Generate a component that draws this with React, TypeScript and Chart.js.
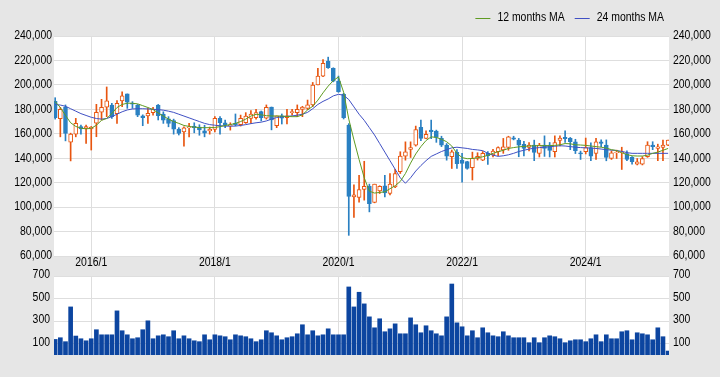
import React, { useEffect, useRef } from 'react';
import { Chart, registerables } from 'chart.js';

Chart.register(...registerables);

// ---------- data (monthly, 2015/6 .. 2025/5) ----------
const START_YEAR = 2015;
const START_MONTH = 6;
const MONTHS: string[] = [];
for (let k = 0; k < 120; k++) {
  const m = START_MONTH - 1 + k;
  MONTHS.push(`${START_YEAR + Math.floor(m / 12)}/${(m % 12) + 1}`);
}

const TICK_LABELS = ['2016/1', '2018/1', '2020/1', '2022/1', '2024/1'];

const OPEN = [
  186500, 172300, 181900, 153100, 159700, 165800, 164400, 164000, 168600, 177600,
  181700, 183500, 176500, 186900, 192600, 184900, 183500, 174600, 174600, 177300,
  183500, 176200, 172300, 170700, 163800, 161600, 164900, 166000, 165400, 162500,
  162500, 163600, 172600, 169000, 166500, 168500, 167400, 169000, 172600, 173200,
  178100, 172700, 181900, 166700, 174600, 173200, 177300, 177300, 180000, 180800,
  183600, 199900, 207200, 219500, 213500, 203100, 192300, 167200, 108300, 107900,
  114400, 117100, 103800, 113300, 117400, 111100, 116600, 128900, 141700, 147200,
  150700, 165200, 156200, 163000, 162200, 156200, 150700, 141200, 144800, 138500,
  137200, 132300, 139900, 138500, 144000, 142600, 145300, 146700, 148800, 156700,
  154800, 151300, 148800, 150700, 144000, 150700, 150700, 145300, 154500, 157000,
  156200, 153500, 144500, 145300, 148800, 143900, 153500, 150700, 139800, 144500,
  144500, 143900, 140700, 135200, 135200, 141200, 150700, 148000, 148800, 150700,
];

const HIGH = [
  189500, 181600, 183600, 160500, 172600, 167100, 167200, 166000, 184100, 188200,
  198300, 185000, 187100, 194400, 192600, 186300, 184000, 175500, 181000, 181600,
  184000, 178000, 174000, 172000, 165000, 165700, 168500, 169000, 167400, 167000,
  165500, 174000, 174000, 171200, 169000, 176200, 175300, 177300, 178900, 180000,
  178600, 183600, 181900, 174600, 176200, 180000, 180000, 183600, 182500, 187600,
  202000, 213500, 220800, 222700, 214000, 207200, 193100, 168300, 118300, 126100,
  137500, 118800, 118800, 117500, 126100, 127500, 131000, 145300, 153400, 153400,
  166300, 171200, 162500, 171200, 163000, 158000, 152000, 146700, 147000, 144000,
  137500, 145000, 144500, 145500, 145500, 147200, 149400, 156200, 158000, 158000,
  156200, 153800, 152900, 154800, 152200, 158300, 152900, 158300, 158300, 162400,
  157000, 155500, 145800, 156500, 152500, 156200, 155000, 155000, 146000, 146600,
  149000, 146000, 141300, 139800, 141300, 153500, 153500, 151500, 154800, 154800,
];

const LOW = [
  172000, 157500, 154200, 137800, 157500, 159700, 152200, 146700, 157600, 171300,
  174000, 172500, 168500, 182200, 180800, 180800, 174000, 166600, 168500, 175300,
  171300, 168500, 165700, 159700, 159000, 149900, 157500, 160800, 158800, 157500,
  159700, 161600, 159700, 165000, 163000, 166500, 166300, 168500, 168500, 172000,
  170500, 172000, 163200, 165000, 168000, 168000, 175300, 174000, 174000, 179700,
  182200, 199900, 206700, 213500, 202500, 193900, 172100, 76900, 91600, 104000,
  105700, 96100, 103500, 111100, 108400, 110000, 116000, 127500, 138400, 140600,
  149900, 154300, 156000, 156000, 153000, 149500, 138400, 131600, 131600, 120500,
  131000, 122200, 138500, 138000, 135000, 141000, 142000, 144000, 146500, 155000,
  141200, 141800, 146000, 138000, 141000, 141500, 141000, 141000, 150000, 153000,
  147000, 143800, 139000, 143500, 138000, 139000, 149400, 137900, 139000, 139800,
  130800, 138000, 135200, 134500, 134500, 140700, 147000, 138000, 138000, 150300,
];

const CLOSE = [
  173200, 180000, 160300, 159700, 168500, 164000, 165800, 165500, 177600, 181700,
  186900, 174000, 184900, 191000, 185800, 184200, 175300, 173200, 176700, 180000,
  174800, 171200, 168500, 163800, 160300, 164900, 165500, 165000, 163200, 160500,
  163600, 172600, 169000, 167100, 167300, 167300, 172600, 174500, 176200, 177300,
  173200, 181600, 171300, 174600, 172700, 174600, 178100, 180000, 181900, 183600,
  199900, 207200, 217600, 214000, 203100, 194400, 173200, 108800, 110100, 114400,
  117100, 102900, 118800, 117100, 111700, 118800, 127500, 141700, 145300, 148800,
  163500, 156200, 159500, 161600, 157000, 150700, 141700, 145300, 135600, 135800,
  131700, 139900, 141500, 144000, 142000, 145800, 148800, 149400, 157600, 155600,
  150700, 148000, 150700, 144800, 150700, 148000, 146400, 152900, 156500, 156000,
  153500, 146100, 143500, 148800, 141700, 153500, 152200, 140700, 144500, 145000,
  145000, 139000, 137100, 137100, 139800, 150700, 149400, 149400, 150700, 154800,
];

const MA12 = [
  186300, 181500, 175000, 169000, 166000, 164600, 164000, 164500, 167000, 171000,
  172600, 176500, 181500, 184000, 185000, 185000, 184500, 183000, 181500, 179800,
  177000, 174500, 172000, 170000, 168500, 166800, 166000, 165500, 165000, 165000,
  165000, 165200, 165800, 166800, 167500, 168500, 170000, 172000, 174500, 175900,
  175500, 174800, 174600, 174500, 174500, 174200, 174000, 174000, 175500, 179500,
  182500, 187500, 193500, 199000, 203500, 206500, 194000, 172000, 155000, 139000,
  124000, 113000, 111500, 112000, 112500, 115000, 117500, 121000, 127500, 136000,
  143500, 149500, 154500, 157500, 157000, 155500, 153500, 150000, 144000, 140500,
  139600, 139800, 140400, 141200, 142300, 144000, 145300, 146500, 148000, 148700,
  149300, 149700, 150000, 150200, 150300, 150300, 150300, 150500, 151000, 152000,
  151800, 151000, 150800, 150500, 150000, 149500, 149000, 148300, 147000, 146300,
  144500, 143000, 142000, 141800, 141800, 142500, 144000, 145000, 146500, 148000,
];

const MA24 = [
  184000, 183500, 182500, 180500, 178500, 176500, 175000, 173500, 172500, 172000,
  172500, 174000, 176000, 178000, 179500, 180300, 180500, 180500, 180300, 180000,
  179800, 179300, 178500, 177500, 176000, 174500, 173000, 171500, 170000, 168500,
  167500, 167000, 166600, 166300, 166200, 166300, 166800, 167500, 168300, 169000,
  169500, 170500, 172000, 173300, 174000, 174300, 174600, 175200, 176000, 177500,
  180500, 184000, 186500, 188500, 191000, 192300, 191500, 188000, 182000, 176000,
  171000, 165000, 159000, 152000, 145000, 138000, 131000, 124000, 119500, 124000,
  129500, 134000, 138000, 141500, 143500, 145500, 147000, 148500, 149000, 148500,
  148000, 147200, 146800, 146200, 144000, 142500, 141500, 142000, 142800, 144000,
  145500, 146500, 147500, 148200, 148700, 149000, 149400, 149800, 150200, 150000,
  149500, 149000, 148700, 148500, 148300, 148000, 147500, 147000, 146600, 146300,
  145600, 144600, 144000, 144000, 144000, 144000, 144000, 144000, 144000, 144000,
];

const VOLUME = [
  138, 153, 118, 426, 168, 144, 126, 144, 224, 179,
  179, 179, 391, 215, 179, 144, 153, 224, 303, 144,
  170, 179, 162, 215, 144, 170, 144, 126, 118, 179,
  135, 179, 170, 162, 135, 179, 170, 162, 144, 118,
  135, 215, 197, 170, 135, 153, 162, 188, 268, 179,
  215, 170, 179, 232, 179, 179, 179, 603, 426, 556,
  453, 338, 241, 321, 206, 232, 276, 188, 188, 329,
  268, 197, 259, 215, 188, 170, 338, 629, 285, 250,
  170, 215, 153, 241, 197, 170, 162, 206, 170, 153,
  153, 153, 109, 153, 109, 153, 170, 162, 144, 109,
  126, 135, 135, 118, 144, 179, 118, 179, 144, 144,
  206, 215, 135, 197, 188, 179, 135, 241, 162, 35,
];

const VOLUME_TICKS = [100, 300, 500, 700];

// ---------- styles ----------
const BG = '#e6e6e6';
const GRID = '#dedede';
const UP = '#e8550f';
const DOWN = '#2a80c2';
const MA12_COLOR = '#5f9b22';
const MA24_COLOR = '#4050c4';
const VOL_COLOR = '#0c45a0';
const FONT_FAMILY = '"Liberation Sans", Arial, sans-serif';
const FONT_SIZE = 12;
const SX = 0.87; // horizontal condensing of the label font

const X_MIN = -0.23;
const X_MAX = 119.17;
const TICK_INDEX = TICK_LABELS.map((l) => MONTHS.indexOf(l));

const fmt = (v: number) => Number(v).toLocaleString('en-US');

function narrowText(ctx: CanvasRenderingContext2D, text: string, x: number, y: number, align: 'left' | 'right' | 'center') {
  const w = ctx.measureText(text).width * SX;
  const left = align === 'left' ? x : align === 'right' ? x - w : x - w / 2;
  ctx.save();
  ctx.translate(left, y);
  ctx.scale(SX, 1);
  ctx.textAlign = 'left';
  ctx.textBaseline = 'middle';
  ctx.fillText(text, 0, 0);
  ctx.restore();
}

const whiteArea = {
  id: 'whiteArea',
  beforeDraw(chart: any) {
    const { ctx, chartArea: a } = chart;
    ctx.save();
    ctx.fillStyle = '#ffffff';
    ctx.fillRect(a.left, a.top, a.right - a.left, a.bottom - a.top);
    ctx.restore();
  },
};

const mainLabels = {
  id: 'mainLabels',
  afterDraw(chart: any) {
    const ctx: CanvasRenderingContext2D = chart.ctx;
    const { x, y } = chart.scales;
    const area = chart.chartArea;
    ctx.save();
    ctx.font = `${FONT_SIZE}px ${FONT_FAMILY}`;
    ctx.fillStyle = '#000';
    y.ticks.forEach((t: any) => {
      const py = y.getPixelForValue(t.value);
      narrowText(ctx, fmt(t.value), area.left - 2, py, 'right');
      narrowText(ctx, fmt(t.value), area.right + 4, py, 'left');
    });
    x.ticks.forEach((t: any) => {
      const px = x.getPixelForValue(t.value);
      narrowText(ctx, MONTHS[Math.round(t.value)], px, area.bottom + 6.5, 'center');
    });

    // legend
    const items = [
      { text: '12 months MA', color: MA12_COLOR },
      { text: '24 months MA', color: MA24_COLOR },
    ];
    const lineLen = 15;
    const gap = 7;
    const itemGap = 10;
    const widths = items.map((it) => ctx.measureText(it.text).width * SX);
    let total = 0;
    items.forEach((_, i) => {
      total += lineLen + gap + widths[i] + (i < items.length - 1 ? itemGap : 0);
    });
    let lx = 664 - total;
    const ly = 18;
    items.forEach((it, i) => {
      ctx.strokeStyle = it.color;
      ctx.lineWidth = 1;
      ctx.beginPath();
      ctx.moveTo(lx, ly + 0.5);
      ctx.lineTo(lx + lineLen, ly + 0.5);
      ctx.stroke();
      lx += lineLen + gap;
      ctx.fillStyle = '#000';
      narrowText(ctx, it.text, lx, ly, 'left');
      lx += widths[i] + itemGap;
    });
    ctx.restore();
  },
};

const volLabels = {
  id: 'volLabels',
  afterDraw(chart: any) {
    const ctx: CanvasRenderingContext2D = chart.ctx;
    const { y } = chart.scales;
    const area = chart.chartArea;
    ctx.save();
    ctx.font = `${FONT_SIZE}px ${FONT_FAMILY}`;
    ctx.fillStyle = '#000';
    y.ticks.forEach((t: any) => {
      const py = y.getPixelForValue(t.value) - 1;
      narrowText(ctx, String(t.value), area.left - 4, py, 'right');
      narrowText(ctx, String(t.value), area.right + 4, py, 'left');
    });
    ctx.restore();
  },
};

export default function App() {
  const mainRef = useRef<HTMLCanvasElement>(null);
  const volRef = useRef<HTMLCanvasElement>(null);

  useEffect(() => {
    const idx = MONTHS.map((_, i) => i);
    const isUp = (i: number) => CLOSE[i] >= OPEN[i];

    const xScale = (height: number) => ({
      type: 'linear' as const,
      min: X_MIN,
      max: X_MAX,
      offset: false,
      bounds: 'data' as const,
      afterBuildTicks: (s: any) => {
        s.ticks = TICK_INDEX.map((v) => ({ value: v }));
      },
      ticks: { display: false },
      grid: { color: GRID, drawTicks: false, offset: false },
      border: { display: false },
      afterFit: (s: any) => {
        s.height = height;
      },
    });

    const valueAxis = (pos: 'left' | 'right', min: number, max: number, width: number, grid: boolean, tickValues?: number[], step?: number) => ({
      position: pos,
      display: true,
      min,
      max,
      afterBuildTicks: tickValues
        ? (s: any) => {
            s.ticks = tickValues.map((v) => ({ value: v }));
          }
        : undefined,
      ticks: { display: false, stepSize: step },
      grid: { display: grid, color: GRID, drawTicks: false },
      border: { display: false },
      afterFit: (s: any) => {
        s.width = width;
      },
    });

    const mainChart = new Chart(mainRef.current!, {
      type: 'bar',
      data: {
        datasets: [
          {
            type: 'line',
            label: '12 months MA',
            data: idx.map((i) => ({ x: i, y: MA12[i] })),
            borderColor: MA12_COLOR,
            borderWidth: 1,
            pointRadius: 0,
            order: 0,
            yAxisID: 'y',
          } as any,
          {
            type: 'line',
            label: '24 months MA',
            data: idx.map((i) => ({ x: i, y: MA24[i] })),
            borderColor: MA24_COLOR,
            borderWidth: 1,
            pointRadius: 0,
            order: 0,
            yAxisID: 'y',
          } as any,
          {
            type: 'bar',
            label: 'body',
            data: idx.map((i) => ({ x: i, y: [OPEN[i], CLOSE[i]] })),
            backgroundColor: idx.map((i) => (isUp(i) ? '#ffffff' : DOWN)),
            borderColor: idx.map((i) => (isUp(i) ? UP : DOWN)),
            borderWidth: 1,
            borderSkipped: false,
            barThickness: 4,
            grouped: false,
            order: 1,
            yAxisID: 'y',
          } as any,
          {
            type: 'bar',
            label: 'wick',
            data: idx.map((i) => ({ x: i, y: [LOW[i], HIGH[i]] })),
            backgroundColor: idx.map((i) => (isUp(i) ? UP : DOWN)),
            borderWidth: 0,
            barThickness: 1,
            grouped: false,
            order: 2,
            yAxisID: 'y',
          } as any,
        ],
      },
      options: {
        responsive: false,
        animation: false,
        devicePixelRatio: 1,
        layout: { padding: { top: 36, left: 0, right: 0, bottom: 0 } },
        plugins: { legend: { display: false }, tooltip: { enabled: false } },
        scales: {
          x: xScale(20) as any,
          y: valueAxis('left', 60000, 240000, 54, true, undefined, 20000) as any,
          y2: valueAxis('right', 60000, 240000, 51, false, undefined, 20000) as any,
        },
      },
      plugins: [whiteArea, mainLabels],
    });

    const volChart = new Chart(volRef.current!, {
      type: 'bar',
      data: {
        datasets: [
          {
            label: 'Volume',
            data: idx.map((i) => ({ x: i, y: VOLUME[i] })),
            backgroundColor: VOL_COLOR,
            borderWidth: 0,
            barThickness: 4,
            yAxisID: 'y',
          } as any,
        ],
      },
      options: {
        responsive: false,
        animation: false,
        devicePixelRatio: 1,
        layout: { padding: { top: 20, left: 0, right: 0, bottom: 22 } },
        plugins: { legend: { display: false }, tooltip: { enabled: false } },
        scales: {
          x: xScale(0) as any,
          y: valueAxis('left', 0, 700, 54, true, VOLUME_TICKS) as any,
          y2: valueAxis('right', 0, 700, 51, false, VOLUME_TICKS) as any,
        },
      },
      plugins: [whiteArea, volLabels],
    });

    return () => {
      mainChart.destroy();
      volChart.destroy();
    };
  }, []);

  return (
    <div
      style={{
        position: 'fixed',
        left: 0,
        top: 0,
        width: 720,
        height: 377,
        background: BG,
        overflow: 'hidden',
      }}
    >
      <canvas
        ref={mainRef}
        width={720}
        height={276}
        style={{ position: 'absolute', left: 0, top: 0, width: 720, height: 276, display: 'block' }}
      />
      <canvas
        ref={volRef}
        width={720}
        height={121}
        style={{ position: 'absolute', left: 0, top: 256, width: 720, height: 121, display: 'block' }}
      />
    </div>
  );
}
